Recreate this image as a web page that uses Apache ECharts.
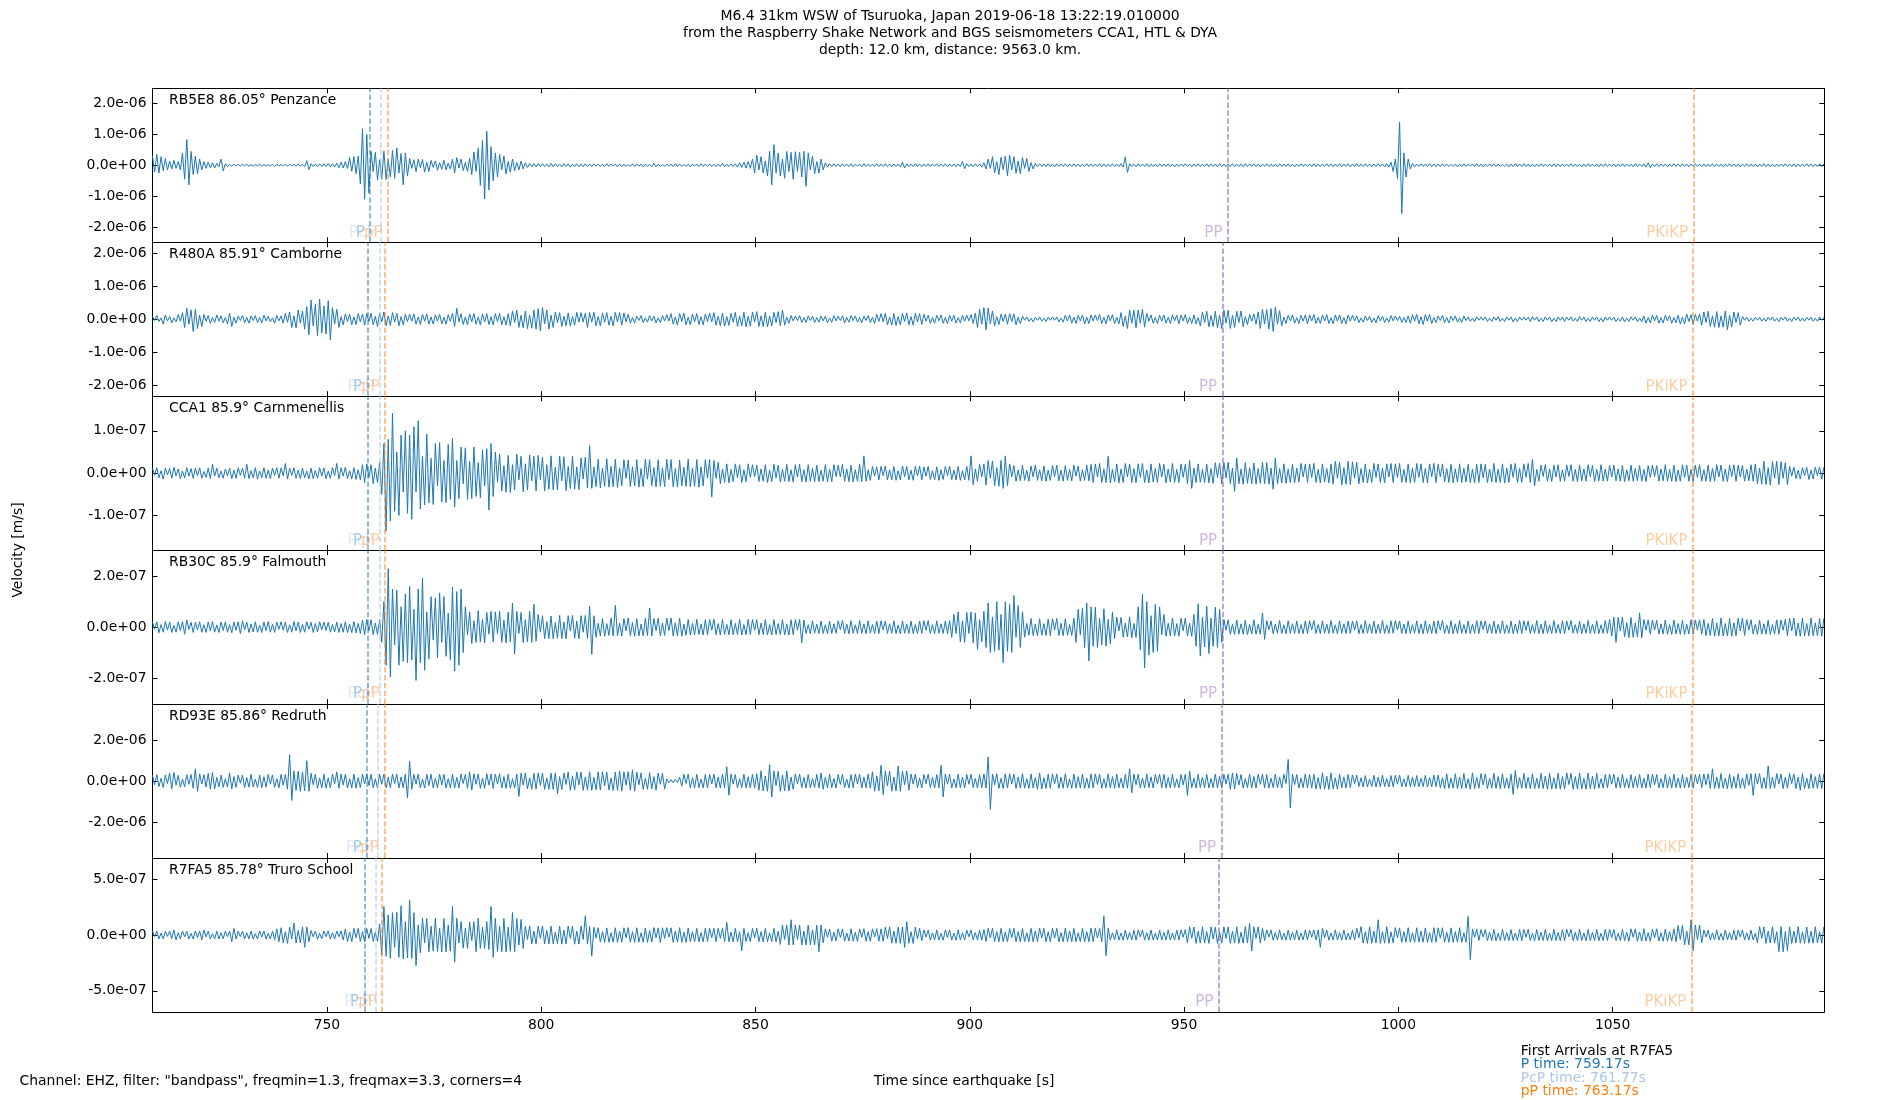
<!DOCTYPE html>
<html><head><meta charset="utf-8">
<script src="https://cdn.jsdelivr.net/npm/echarts@6/dist/echarts.min.js"></script>
<style>html,body{margin:0;padding:0;background:#fff}#c{width:1900px;height:1100px}</style>
</head><body><div id="c"></div>
<script>
const titleLines = [
  'M6.4 31km WSW of Tsuruoka, Japan 2019-06-18 13:22:19.010000',
  'from the Raspberry Shake Network and BGS seismometers CCA1, HTL & DYA',
  'depth: 12.0 km, distance: 9563.0 km.'
];
const stationLabels = ['RB5E8 86.05° Penzance','R480A 85.91° Camborne','CCA1 85.9° Carnmenellis','RB30C 85.9° Falmouth','RD93E 85.86° Redruth','R7FA5 85.78° Truro School'];
const phaseNames = ['P','PcP','pP','PP','PKiKP'];
const phaseTimes = [
  [760.1,762.6,764.25,960.25,1068.9],
  [759.5,762.25,763.6,959.0,1068.75],
  [759.5,762.25,763.6,959.0,1068.75],
  [759.5,762.25,763.6,959.0,1068.75],
  [759.4,761.9,763.4,958.75,1068.5],
  [758.75,761.5,762.9,958.1,1068.5]
];
const yLimits = [2.49e-6, 2.33e-6, 1.82e-7, 3.03e-7, 3.77e-6, 6.9e-7];
const yTicks = [
  [-2e-6,-1e-6,0,1e-6,2e-6],
  [-2e-6,-1e-6,0,1e-6,2e-6],
  [-1e-7,0,1e-7],
  [-2e-7,0,2e-7],
  [-2e-6,0,2e-6],
  [-5e-7,0,5e-7]
];
const xTicks = [750,800,850,900,950,1000,1050];
const xMin = 709.3, xMax = 1099.4;
const traceStart = 709.3, traceStep = 0.5;
const traceUnits = [1e-8,1e-8,1e-9,1e-9,1e-8,1e-9];
const footerLeft = 'Channel: EHZ, filter: "bandpass", freqmin=1.3, freqmax=3.3, corners=4';
const xLabel = 'Time since earthquake [s]';
const yLabel = 'Velocity [m/s]';
const arrivalLines = ['First Arrivals at R7FA5','P time: 759.17s','PcP time: 761.77s','pP time: 763.17s'];

const trace1 = [
30,-22,35,-25,28,-18,22,-15,14,-12,16,-10,12,-15,40,-45,83,-63,45,-30,
30,-28,20,-15,12,-10,10,-8,8,-9,6,-5,20,-18,5,-4,3,-3,4,-3,
3,-3,4,-2,3,-3,2,-3,3,-2,4,-3,3,-3,2,-2,3,-4,3,-2,
3,-3,4,-3,3,-2,3,-3,4,-3,3,-4,15,-14,5,-4,4,-5,5,-4,
5,-4,6,-5,5,-6,7,-8,10,-9,12,-10,25,-20,28,-27,30,-60,118,-110,
100,-90,45,-20,42,-48,18,-45,46,-46,20,-38,48,-42,56,-25,38,-63,40,-35,
22,-10,18,-21,20,-8,19,-22,10,-20,16,-7,14,-16,8,-13,16,-15,7,-12,
20,-25,25,-9,20,-17,9,-20,22,-30,43,-20,55,-65,80,-109,110,-80,60,-50,
40,-38,35,-15,30,-28,12,-22,20,-18,9,-15,14,-12,8,-7,6,-5,5,-5,
5,-4,5,-5,4,-5,6,-4,5,-4,4,-5,5,-4,5,-6,4,-4,5,-5,
4,-5,5,-4,4,-4,5,-3,4,-4,3,-4,5,-4,4,-3,4,-5,4,-4,
4,-4,3,-4,5,-4,4,-3,4,-5,4,-4,3,-4,6,-5,4,-4,3,-4,
4,-3,4,-4,5,-4,4,-4,3,-4,4,-5,4,-3,4,-4,5,-4,4,-4,
4,-4,3,-5,4,-4,6,-5,4,-4,4,-4,5,-6,8,-7,10,-9,12,-10,
20,-25,32,-15,28,-25,14,-35,45,-63,67,-25,40,-35,20,-42,45,-20,42,-45,
44,-20,42,-38,45,-68,40,-15,30,-27,12,-25,20,-15,8,-6,5,-4,5,-4,
4,-5,5,-4,4,-4,5,-5,4,-3,4,-5,5,-4,4,-4,3,-4,5,-4,
4,-4,5,-4,4,-5,4,-4,4,-5,10,-9,5,-4,4,-4,5,-4,4,-5,
4,-4,5,-4,4,-3,5,-4,4,-4,5,-5,4,-4,4,-5,4,-4,12,-11,
5,-4,4,-5,5,-4,4,-6,8,-12,20,-10,28,-25,12,-30,26,-14,30,-34,
32,-15,28,-26,14,-27,25,-10,22,-20,9,-12,6,-5,5,-4,4,-5,5,-4,
4,-5,5,-4,4,-4,5,-5,4,-4,5,-4,4,-5,4,-4,5,-4,4,-4,
4,-4,5,-4,4,-5,4,-4,5,-4,4,-4,5,-6,27,-23,5,-4,4,-5,
5,-4,4,-4,5,-5,4,-4,4,-5,5,-4,4,-4,5,-4,4,-5,4,-4,
4,-4,5,-4,4,-5,4,-4,5,-4,4,-4,5,-5,4,-4,4,-5,5,-4,
4,-5,4,-4,5,-4,4,-4,4,-5,5,-4,4,-4,5,-4,4,-5,4,-4,
5,-4,4,-4,4,-5,5,-4,4,-4,5,-4,4,-5,4,-4,5,-4,4,-4,
4,-4,5,-5,4,-4,4,-4,5,-4,4,-5,4,-4,5,-4,4,-4,5,-5,
4,-4,5,-4,4,-4,5,-4,4,-5,4,-4,5,-4,4,-5,5,-6,10,-20,
20,-43,139,-156,40,-38,20,-12,6,-5,4,-4,5,-4,4,-4,5,-4,4,-5,
4,-4,5,-4,4,-4,3,-4,4,-5,4,-4,5,-4,4,-3,4,-4,5,-4,
4,-5,4,-4,4,-4,5,-4,4,-4,3,-4,4,-5,4,-4,5,-4,4,-4,
5,-4,4,-4,4,-5,4,-4,5,-4,4,-4,4,-4,5,-5,4,-4,4,-4,
4,-4,5,-4,4,-4,4,-5,4,-4,5,-4,4,-4,4,-5,4,-4,5,-4,
4,-4,4,-5,4,-4,5,-4,4,-4,4,-5,5,-4,4,-4,5,-6,8,-8,
4,-4,5,-4,4,-4,4,-5,4,-4,5,-4,4,-4,5,-4,4,-5,4,-4,
5,-4,4,-4,4,-5,4,-4,5,-4,4,-4,4,-5,4,-4,5,-4,4,-4,
4,-5,4,-4,5,-4,4,-4,4,-5,4,-4,5,-4,4,-4,4,-5,4,-4,
4,-4,5,-4,4,-4,5,-5,4,-4,4,-4,5,-4,4,-5,4,-4,5,-4,
4];

const trace2 = [
8,-4,12,-7,4,-15,13,-5,8,-11,4,-8,14,-6,20,-25,33,-15,28,-37,
30,-28,12,-22,14,-6,11,-13,5,-10,13,-6,10,-11,5,-14,18,-22,6,-12,
10,-4,11,-10,5,-12,10,-4,11,-10,5,-11,12,-5,9,-8,4,-12,11,-5,
10,-12,18,-9,22,-25,10,-26,28,-12,25,-30,38,-47,58,-20,45,-50,61,-42,
40,-45,56,-62,35,-15,30,-25,8,-17,16,-7,15,-17,7,-16,17,-8,16,-18,
17,-7,18,-17,9,-22,19,-8,22,-20,10,-19,20,-9,18,-20,8,-17,15,-7,
15,-6,16,-15,7,-16,15,-6,16,-15,7,-15,13,-6,15,-14,6,-15,14,-7,
18,-22,33,-8,17,-16,7,-17,16,-8,17,-15,7,-17,16,-8,17,-16,7,-17,
17,-7,18,-17,8,-18,17,-20,25,-10,27,-25,12,-26,25,-28,12,-27,28,-30,
32,-35,35,-14,28,-30,12,-25,22,-10,20,-22,9,-20,19,-21,8,-18,21,-9,
20,-8,18,-25,20,-9,21,-20,8,-20,19,-9,20,-18,9,-20,21,-8,20,-18,
19,-8,15,-12,5,-11,9,-4,11,-10,4,-9,11,-5,9,-11,4,-10,11,-5,
14,-6,17,-15,7,-18,17,-7,18,-17,6,-17,16,-8,17,-16,7,-17,16,-7,
19,-8,20,-18,9,-20,19,-21,8,-19,18,-9,21,-22,10,-20,21,-23,9,-21,
22,-9,23,-22,10,-22,21,-23,9,-20,21,-10,23,-20,28,-18,6,-12,11,-5,
10,-4,11,-10,5,-10,10,-4,9,-10,5,-9,10,-5,9,-11,4,-9,11,-5,
9,-4,10,-11,5,-9,11,-4,10,-9,5,-11,9,-4,11,-10,6,-13,15,-7,
17,-8,18,-17,7,-18,17,-19,8,-17,18,-7,19,-17,8,-18,18,-8,17,-16,
15,-6,12,-13,5,-12,12,-5,13,-12,5,-13,12,-6,12,-12,5,-11,12,-6,
12,-5,14,-13,18,-25,30,-15,35,-32,34,-14,25,-20,8,-16,15,-7,16,-15,
17,-7,16,-17,6,-13,9,-3,7,-6,3,-8,6,-3,7,-6,3,-7,6,-3,
7,-3,7,-8,3,-9,12,-5,13,-12,6,-13,12,-5,13,-14,6,-13,13,-5,
13,-5,14,-13,6,-14,13,-5,14,-13,6,-14,20,-22,10,-28,28,-12,27,-26,
28,-12,30,-24,18,-6,13,-12,5,-13,12,-6,13,-12,6,-13,13,-5,12,-14,
13,-5,14,-13,6,-13,13,-14,5,-20,22,-10,24,-23,11,-22,24,-26,12,-28,
28,-12,27,-28,12,-25,24,-10,25,-22,8,-16,14,-6,16,-15,22,-28,30,-14,
29,-30,32,-37,36,-15,26,-20,6,-13,12,-5,13,-12,5,-13,12,-6,13,-14,
13,-5,14,-13,6,-13,13,-5,14,-13,5,-14,13,-6,13,-13,5,-14,13,-6,
12,-5,10,-10,4,-9,10,-4,9,-10,4,-11,11,-5,9,-10,4,-9,11,-5,
10,-4,9,-10,5,-10,10,-12,14,-6,15,-14,7,-16,14,-6,15,-13,5,-10,
10,-4,11,-10,5,-11,9,-4,10,-9,4,-10,10,-4,7,-7,3,-7,7,-3,
7,-3,7,-7,3,-7,7,-3,8,-7,3,-7,7,-3,7,-8,3,-7,7,-3,
7,-3,6,-7,8,-3,7,-7,3,-7,7,-3,7,-8,3,-7,7,-3,7,-7,
6,-3,7,-6,3,-7,8,-3,7,-7,3,-7,7,-3,7,-7,3,-8,7,-3,
7,-3,6,-7,3,-6,7,-8,3,-7,7,-3,7,-7,3,-7,10,-12,5,-11,
12,-5,11,-12,5,-11,12,-5,11,-12,5,-11,12,-15,6,-14,16,-7,14,-16,
15,-6,16,-18,22,-10,24,-22,10,-24,23,-25,10,-24,25,-32,12,-24,22,-10,
20,-18,8,-3,6,-6,3,-6,6,-3,6,-6,3,-6,6,-3,7,-6,3,-7,
6,-3,7,-6,3,-7,6,-3,7,-6,3,-6,6,-3,6,-6,3,-6,7,-3,
6];

const trace3 = [
12,-5,13,-11,6,-14,12,-4,11,-12,14,-6,10,-13,5,-11,13,-7,11,-12,
12,-6,13,-12,4,-10,12,-13,21,-7,12,-11,5,-12,10,-6,12,-13,7,-12,
13,-5,12,-12,21,-13,6,-11,13,-14,5,-11,13,-12,7,-13,12,-5,13,-12,
12,-6,23,-14,12,-5,13,-12,7,-13,12,-11,5,-14,12,-13,6,-12,13,-7,
12,-13,5,-12,13,-6,23,-14,13,-7,14,-13,6,-14,13,-15,8,-16,20,-22,
22,-10,20,-25,12,-22,25,-50,70,-137,80,-113,142,-90,50,-100,90,-45,100,-95,
90,-109,110,-45,124,-85,40,-75,92,-70,35,-74,70,-30,72,-68,30,-70,68,-62,
82,-80,30,-60,62,-25,60,-62,28,-60,62,-55,25,-58,55,-30,58,-87,70,-55,
50,-20,45,-42,18,-45,42,-46,20,-40,45,-16,40,-44,22,-40,43,-18,40,-42,
42,-15,38,-42,20,-38,41,-39,14,-40,40,-18,39,-41,16,-36,40,-38,15,-39,
36,-14,38,-35,65,-36,15,-32,33,-35,12,-31,34,-33,16,-32,33,-34,13,-30,
32,-12,31,-32,15,-30,32,-33,11,-32,33,-14,32,-30,13,-33,32,-31,12,-32,
33,-15,32,-32,11,-33,31,-30,14,-31,33,-32,12,-31,32,-33,15,-30,32,-12,
32,-56,30,-12,26,-25,10,-22,22,-23,9,-20,22,-11,20,-22,8,-20,22,-10,
20,-8,19,-20,10,-19,20,-22,7,-20,21,-11,19,-21,9,-19,21,-20,8,-21,
20,-9,21,-20,8,-21,20,-19,11,-20,19,-20,7,-19,20,-21,10,-20,20,-8,
19,-9,21,-19,10,-20,19,-21,8,-19,21,-20,41,-19,8,-17,16,-7,15,-16,
16,-6,17,-16,8,-16,16,-17,6,-16,17,-8,16,-16,7,-17,16,-6,17,-16,
15,-7,16,-15,6,-16,15,-17,8,-15,16,-6,17,-15,7,-16,16,-17,6,-16,
16,-17,41,-27,10,-19,21,-9,22,-28,30,-12,29,-30,13,-31,30,-36,41,-30,
22,-9,18,-19,8,-18,19,-17,7,-19,17,-9,19,-17,8,-18,17,-19,7,-17,
18,-8,19,-18,7,-19,18,-17,9,-18,19,-7,17,-19,8,-17,19,-18,21,-22,
22,-9,23,-22,10,-22,40,-23,9,-21,22,-23,10,-22,23,-9,22,-22,11,-23,
22,-10,23,-22,8,-23,22,-21,11,-22,23,-9,21,-23,10,-21,23,-22,9,-22,
22,-10,21,-25,30,-36,12,-22,22,-21,9,-22,21,-23,11,-24,25,-10,24,-25,
25,-11,26,-25,12,-43,36,-25,10,-26,25,-24,13,-25,24,-26,11,-24,26,-25,
25,-26,12,-38,36,-25,11,-23,22,-24,10,-22,21,-23,12,-21,23,-9,21,-22,
22,-10,23,-22,9,-23,22,-21,11,-23,22,-26,28,-12,26,-28,13,-26,28,-27,
27,-12,26,-25,11,-22,22,-23,9,-22,23,-10,22,-22,12,-23,22,-9,23,-22,
22,-10,23,-22,9,-22,22,-23,12,-22,23,-10,22,-22,11,-23,22,-9,23,-22,
21,-9,22,-21,11,-22,21,-23,10,-21,22,-22,12,-21,21,-22,9,-23,21,-22,
22,-11,21,-22,10,-21,23,-22,9,-22,22,-23,12,-22,22,-10,23,-22,11,-22,
22,-10,23,-22,33,-30,9,-19,19,-8,20,-19,10,-20,19,-9,20,-19,8,-19,
19,-8,20,-19,9,-20,19,-18,10,-19,20,-8,18,-20,9,-18,20,-19,10,-19,
18,-9,19,-18,10,-19,18,-20,8,-18,19,-19,11,-18,18,-19,9,-20,18,-10,
19,-8,18,-19,10,-18,20,-19,9,-19,19,-20,8,-19,20,-10,19,-19,9,-20,
19,-10,20,-19,8,-19,19,-20,11,-19,20,-9,19,-19,10,-20,19,-8,20,-19,
19,-9,18,-19,10,-18,20,-19,22,-25,12,-26,28,-27,13,-28,27,-12,28,-27,
27,-12,25,-27,16,-7,14,-13,7,-14,13,-6,14,-15,7,-14,14,-6,15,-14,
14];

const trace4 = [
20,-8,21,-22,10,-20,22,-12,20,-21,7,-20,21,-14,22,-28,28,-9,19,-21,
20,-11,21,-20,9,-21,20,-15,22,-20,8,-21,20,-13,21,-20,10,-22,20,-12,
21,-25,25,-10,19,-21,12,-19,21,-20,8,-21,20,-14,22,-20,11,-21,20,-9,
21,-12,20,-21,9,-20,22,-15,20,-21,11,-20,21,-8,19,-21,14,-19,21,-10,
20,-13,19,-20,10,-19,20,-21,14,-20,21,-22,12,-21,22,-23,15,-25,28,-30,
30,-14,29,-30,16,-29,30,-60,100,-150,230,-196,150,-70,145,-150,80,-135,130,-140,
160,-130,70,-210,150,-140,193,-170,60,-125,120,-50,115,-120,135,-60,120,-115,55,-130,
157,-173,140,-150,150,-100,80,-30,60,-65,25,-60,65,-58,30,-62,58,-28,62,-58,
60,-25,62,-60,28,-62,60,-58,95,-105,62,-25,58,-61,30,-58,62,-60,90,-55,
50,-20,45,-46,22,-45,44,-46,18,-44,46,-45,20,-46,45,-16,46,-44,24,-46,
45,-20,46,-45,82,-107,45,-40,15,-35,34,-36,14,-33,36,-35,86,-34,16,-36,
34,-15,36,-34,18,-36,33,-35,12,-34,35,-33,75,-35,34,-14,35,-34,16,-33,
35,-14,36,-35,17,-34,35,-36,12,-32,30,-31,15,-30,31,-29,12,-31,29,-30,
30,-12,31,-30,14,-31,30,-29,11,-30,29,-30,15,-29,30,-31,10,-30,31,-29,
30,-13,29,-30,16,-29,30,-30,10,-31,30,-29,14,-30,29,-30,12,-31,29,-30,
30,-12,31,-62,28,-25,10,-26,25,-24,12,-25,24,-25,9,-26,24,-25,13,-24,
25,-10,26,-25,12,-26,25,-24,9,-25,26,-24,13,-26,25,-24,10,-25,24,-25,
25,-11,24,-25,13,-24,25,-25,9,-26,25,-24,12,-25,24,-25,10,-26,24,-25,
25,-12,26,-25,10,-26,25,-24,13,-25,24,-26,25,-40,50,-25,60,-58,25,-60,
58,-25,60,-62,56,-88,30,-58,62,-80,95,-100,40,-95,100,-90,50,-140,100,-95,
90,-100,124,-40,85,-80,60,-40,15,-32,34,-33,12,-34,33,-32,14,-33,32,-34,
33,-12,34,-33,15,-34,33,-32,10,-33,35,-60,70,-30,75,-80,95,-133,80,-75,
78,-80,35,-70,72,-75,30,-65,60,-45,40,-15,38,-40,16,-39,40,-42,14,-41,
80,-90,130,-160,100,-110,45,-100,90,-95,80,-30,50,-36,15,-34,36,-35,14,-36,
35,-14,36,-35,15,-36,50,-75,92,-114,40,-78,82,-104,35,-75,78,-80,70,-60,
30,-12,29,-28,11,-29,28,-27,13,-28,27,-29,10,-27,29,-28,12,-28,56,-48,
26,-10,24,-26,12,-24,26,-25,9,-26,25,-24,13,-25,24,-25,10,-26,24,-25,
25,-11,26,-25,10,-26,25,-24,12,-25,26,-24,9,-26,25,-24,13,-25,24,-25,
24,-12,25,-26,10,-25,26,-24,13,-25,24,-26,11,-24,26,-25,9,-25,25,-24,
26,-11,24,-25,12,-26,24,-25,10,-24,25,-25,13,-26,25,-24,11,-25,24,-26,
25,-12,26,-25,9,-25,25,-26,13,-25,26,-24,10,-25,24,-26,12,-24,26,-25,
24,-10,25,-24,13,-25,24,-26,11,-24,25,-25,9,-24,24,-26,12,-24,26,-25,
25,-13,24,-25,10,-24,26,-25,12,-26,25,-24,9,-25,26,-24,11,-25,25,-26,
24,-12,26,-24,10,-25,24,-26,13,-24,26,-25,11,-25,25,-26,9,-25,26,-24,
30,-35,40,-60,38,-15,39,-38,18,-41,38,-40,16,-39,56,-42,30,-12,29,-28,
28,-12,27,-28,13,-27,28,-28,10,-29,28,-27,14,-28,27,-29,11,-27,29,-28,
28,-12,29,-28,30,-34,15,-33,34,-36,16,-34,36,-35,14,-35,34,-36,17,-34,
35,-15,36,-33,30,-12,29,-27,11,-29,27,-28,13,-28,27,-29,10,-27,29,-28,
28,-12,30,-33,35,-15,36,-35,16,-36,35,-34,14,-35,36,-34,17,-33,34,-36,
34];

const trace5 = [
28,-18,32,-27,14,-31,30,-12,40,-38,42,-20,28,-31,10,-29,31,-16,32,-35,
60,-50,35,-14,31,-29,38,-40,42,-38,18,-28,29,-31,12,-29,40,-38,22,-31,
30,-11,29,-32,17,-30,33,-29,9,-31,30,-33,21,-30,33,-15,30,-31,12,-33,
32,-20,33,-40,129,-95,50,-45,48,-50,45,-48,100,-50,38,-18,34,-36,15,-33,
34,-35,16,-33,35,-14,45,-36,34,-20,33,-34,12,-33,34,-35,18,-32,34,-13,
33,-22,34,-33,11,-34,33,-16,34,-33,19,-33,34,-12,33,-34,20,-33,34,-82,
96,-40,33,-15,34,-33,10,-34,33,-22,34,-33,14,-33,34,-19,33,-34,12,-33,
33,-34,18,-33,35,-12,33,-35,45,-44,36,-16,35,-36,14,-35,36,-20,35,-36,
34,-15,36,-34,22,-36,34,-35,12,-34,35,-75,38,-20,40,-38,16,-40,38,-39,
40,-21,39,-41,15,-40,39,-41,40,-62,22,-41,40,-17,44,-45,25,-44,45,-19,
44,-45,20,-44,45,-46,18,-43,45,-44,46,-24,43,-44,15,-46,44,-45,50,-50,
45,-20,46,-45,55,-50,44,-18,40,-41,14,-40,41,-39,22,-45,39,-16,38,-39,
10,-8,7,-8,8,-7,20,-25,33,-12,34,-33,17,-34,33,-32,10,-33,32,-34,
33,-14,34,-33,20,-34,33,-32,70,-69,34,-15,32,-34,12,-32,34,-33,21,-34,
33,-34,36,-45,50,-48,25,-50,80,-78,50,-22,48,-50,30,-48,50,-49,20,-40,
35,-14,34,-32,18,-34,32,-33,12,-32,33,-34,40,-40,19,-33,34,-32,13,-34,
32,-17,34,-32,10,-34,32,-33,34,-15,33,-34,20,-33,34,-35,45,-50,26,-48,
77,-67,50,-24,49,-50,20,-49,74,-50,48,-19,50,-45,35,-15,34,-32,16,-34,
32,-13,34,-32,18,-34,32,-33,77,-78,34,-15,33,-34,11,-33,34,-32,20,-34,
32,-16,34,-32,13,-34,32,-33,35,-34,118,-139,35,-18,36,-35,14,-36,35,-34,
36,-15,34,-36,20,-34,36,-35,12,-36,35,-34,18,-40,40,-39,16,-36,34,-35,
36,-14,35,-36,19,-35,36,-34,11,-36,34,-35,21,-34,35,-36,15,-35,36,-34,
35,-17,33,-35,12,-33,35,-34,22,-35,34,-33,14,-34,33,-35,60,-57,34,-18,
33,-34,15,-33,34,-32,21,-34,32,-13,34,-32,33,-34,18,-33,34,-32,11,-34,
32,-19,34,-70,49,-33,14,-34,33,-32,20,-33,32,-34,12,-32,34,-33,23,-34,
33,-15,34,-40,40,-39,38,-20,32,-34,12,-32,34,-33,22,-34,33,-16,34,-33,
32,-34,14,-32,34,-33,20,-34,33,-12,106,-132,34,-18,32,-34,15,-32,34,-33,
32,-34,33,-40,18,-39,41,-40,24,-41,40,-39,16,-40,34,-33,20,-34,33,-32,
30,-12,29,-27,16,-29,27,-28,10,-27,28,-29,19,-28,29,-27,12,-29,27,-28,
28,-15,29,-28,11,-29,28,-27,20,-28,27,-28,13,-27,28,-29,18,-28,29,-27,
30,-33,16,-37,35,-36,14,-35,36,-37,20,-36,37,-35,12,-40,40,-37,18,-35,
37,-18,35,-37,14,-35,37,-36,22,-37,36,-35,15,-36,35,-65,52,-37,17,-35,
37,-36,20,-37,36,-38,14,-36,38,-37,25,-40,38,-39,16,-38,39,-40,22,-39,
40,-17,38,-40,22,-38,40,-39,14,-40,39,-38,24,-39,38,-35,12,-34,32,-33,
34,-15,33,-34,20,-33,34,-32,11,-34,32,-33,22,-32,33,-34,14,-33,34,-32,
33,-18,32,-33,12,-32,33,-34,21,-33,34,-32,15,-34,32,-33,19,-32,33,-34,
32,-14,34,-32,35,-18,36,-35,60,-36,20,-36,37,-35,14,-37,35,-36,22,-35,
36,-35,16,-36,35,-21,37,-70,36,-15,37,-36,18,-36,74,-37,20,-35,37,-14,
35,-37,19,-35,37,-13,35,-37,20,-45,37,-36,15,-37,36,-35,22,-36,35,-37,
36];

const trace6 = [
35,-13,36,-34,18,-35,34,-12,35,-33,45,-44,20,-34,35,-16,33,-35,14,-36,
35,-22,36,-45,45,-16,35,-34,12,-35,34,-36,20,-34,36,-15,34,-60,60,-36,
35,-14,34,-35,20,-34,35,-36,12,-35,36,-18,35,-36,14,-35,36,-45,55,-60,
65,-70,30,-75,70,-34,107,-72,40,-70,73,-110,74,-60,40,-16,35,-37,15,-35,
36,-14,37,-36,20,-37,36,-15,37,-45,55,-60,28,-60,59,-25,60,-58,30,-60,
58,-30,59,-57,25,-58,100,-180,256,-190,180,-208,200,-110,205,-200,262,-214,120,-205,
315,-210,200,-274,90,-160,150,-70,148,-150,80,-145,150,-148,60,-150,148,-152,90,-145,
256,-244,150,-70,120,-118,60,-120,118,-50,120,-150,150,-120,70,-122,120,-130,256,-200,
150,-148,80,-150,148,-152,70,-145,202,-150,148,-90,140,-120,80,-40,82,-80,35,-82,
80,-30,82,-80,40,-81,80,-79,25,-78,80,-82,45,-80,81,-30,80,-82,35,-80,
80,-40,173,-80,75,-190,70,-25,66,-64,30,-66,64,-65,20,-64,65,-66,35,-65,
65,-24,66,-65,30,-66,65,-64,20,-65,64,-66,40,-64,66,-25,64,-66,65,-30,
66,-20,64,-66,35,-64,66,-65,25,-66,62,-60,30,-59,60,-61,22,-60,61,-59,
60,-25,59,-60,61,-30,60,-61,113,-60,25,-61,60,-59,30,-140,60,-59,20,-60,
59,-25,61,-59,30,-61,59,-60,20,-59,60,-61,35,-85,90,-40,89,-90,137,-88,
90,-40,89,-90,35,-89,90,-88,45,-90,88,-149,90,-70,56,-20,54,-56,25,-54,
56,-22,54,-56,18,-54,56,-55,25,-56,55,-20,56,-55,30,-56,55,-18,56,-55,
54,-56,70,-30,74,-72,35,-73,72,-75,74,-110,119,-74,30,-75,72,-35,60,-50,
46,-18,44,-46,20,-44,46,-45,15,-46,45,-22,46,-45,17,-46,45,-44,20,-45,
44,-16,45,-44,22,-45,44,-46,50,-58,60,-25,61,-60,30,-61,60,-59,28,-60,
59,-24,61,-59,30,-61,59,-60,20,-59,60,-61,35,-60,61,-25,60,-61,30,-60,
61,-28,60,-61,22,-60,61,-59,35,-61,59,-60,20,-59,60,-61,30,-60,61,-59,
60,-25,59,-60,173,-185,60,-46,20,-44,46,-45,18,-46,45,-44,22,-45,44,-46,
45,-16,46,-45,20,-46,45,-44,15,-45,44,-46,24,-44,46,-45,18,-46,45,-44,
46,-20,50,-70,75,-30,72,-75,34,-73,75,-72,30,-75,74,-35,70,-74,28,-73,
74,-30,73,-74,35,-72,74,-75,25,-74,75,-72,104,-143,74,-30,73,-72,60,-50,
46,-18,44,-46,22,-44,46,-45,16,-46,45,-44,25,-45,44,-46,18,-44,46,-45,
44,-20,45,-44,46,-110,60,-25,44,-46,18,-44,46,-45,22,-46,45,-44,16,-45,
44,-46,60,-25,75,-73,30,-75,73,-74,35,-72,137,-75,30,-73,75,-74,28,-70,
66,-25,64,-66,30,-64,66,-65,20,-66,65,-64,35,-65,64,-66,22,-64,66,-65,
64,-28,65,-64,25,-65,64,-66,30,-64,66,-65,20,-66,167,-220,55,-20,51,-49,
50,-18,49,-50,25,-49,50,-51,15,-50,51,-49,22,-51,49,-50,18,-49,50,-51,
49,-20,51,-49,16,-51,49,-50,25,-49,50,-51,18,-50,51,-49,22,-51,49,-50,
51,-15,50,-51,24,-50,51,-49,18,-51,49,-50,25,-49,50,-51,16,-50,51,-49,
50,-22,49,-50,15,-49,50,-51,25,-55,56,-20,55,-56,28,-55,56,-54,22,-56,
54,-25,56,-54,20,-56,54,-55,30,-54,55,-60,85,-40,88,-89,35,-88,137,-140,
90,-40,89,-70,46,-18,44,-46,20,-44,46,-45,15,-46,45,-44,22,-45,44,-46,
45,-18,46,-45,20,-46,45,-44,16,-70,75,-30,73,-75,35,-72,75,-73,30,-150,
75,-150,30,-140,73,-75,35,-72,75,-73,28,-75,72,-74,35,-73,74,-72,30,-74,
73];

const traces = [trace1, trace2, trace3, trace4, trace5, trace6];

const FONT = 'DejaVu Sans';
const FS = 13.9;
const plotLeft = 152.5, plotRight = 75.7, plotTop = 88.3, panelH = 153.95;
const phaseLineColors = ['rgba(31,119,180,0.55)','rgba(174,199,232,0.6)','rgba(255,127,14,0.55)','rgba(148,103,189,0.65)','rgba(255,127,14,0.55)'];
const phaseTextColors = ['rgba(31,119,180,0.5)','rgba(174,199,232,0.5)','rgba(255,127,14,0.5)','rgba(148,103,189,0.6)','rgba(255,127,14,0.5)'];

function sci(v){
  return Number(v).toExponential(1).replace(/e([+-])(\d)$/, 'e$10$2');
}

const grids = [], xAxes = [], yAxes = [], series = [], graphics = [];
const axisLineStyle = {color:'#000', width:1};
for (let i = 0; i < 6; i++) {
  const top = plotTop + i * panelH;
  grids.push({left: plotLeft, right: plotRight, top: top, height: panelH, containLabel: false});
  const isBottom = i === 5;
  xAxes.push({
    type:'value', gridIndex:i, position:'bottom', min:xMin, max:xMax,
    axisLine:{show:true, onZero:false, lineStyle:axisLineStyle},
    axisTick:{show:true, inside:true, length:5, customValues:xTicks, lineStyle:{color:'#000', width:1}},
    axisLabel:{show:isBottom, customValues:xTicks, formatter:(v) => String(v), fontFamily:FONT, fontSize:FS, color:'#000', margin:6},
    splitLine:{show:false}
  });
  xAxes.push({
    type:'value', gridIndex:i, position:'top', min:xMin, max:xMax,
    axisLine:{show:true, onZero:false, lineStyle:axisLineStyle},
    axisTick:{show:true, inside:true, length:5, customValues:xTicks, lineStyle:{color:'#000', width:1}},
    axisLabel:{show:false}, splitLine:{show:false}
  });
  yAxes.push({
    type:'value', gridIndex:i, position:'left', min:-yLimits[i], max:yLimits[i],
    axisLine:{show:true, onZero:false, lineStyle:axisLineStyle},
    axisTick:{show:true, inside:true, length:5, customValues:yTicks[i], lineStyle:{color:'#000', width:1}},
    axisLabel:{show:true, customValues:yTicks[i], formatter:sci, fontFamily:FONT, fontSize:FS, color:'#000', margin:6},
    splitLine:{show:false}
  });
  yAxes.push({
    type:'value', gridIndex:i, position:'right', min:-yLimits[i], max:yLimits[i],
    axisLine:{show:true, onZero:false, lineStyle:axisLineStyle},
    axisTick:{show:true, inside:true, length:5, customValues:yTicks[i], lineStyle:{color:'#000', width:1}},
    axisLabel:{show:false}, splitLine:{show:false}
  });
  const unit = traceUnits[i];
  series.push({
    type:'line', xAxisIndex:2*i, yAxisIndex:2*i,
    data: traces[i].map((v,k) => [traceStart + k*traceStep, v*unit]),
    showSymbol:false, symbol:'none', animation:false, silent:true, clip:true,
    lineStyle:{color:'#1f77b4', width:1}, z:2,
    markLine:{
      symbol:['none','none'], silent:true, animation:false, label:{show:false},
      data: phaseTimes[i].map((t,j) => ({xAxis:t, lineStyle:{color:phaseLineColors[j], type:[5.5,2.4], width:1.8}}))
    }
  });
  series.push({
    type:'scatter', xAxisIndex:2*i, yAxisIndex:2*i, silent:true, animation:false, z:4,
    symbolSize:1, itemStyle:{color:'rgba(0,0,0,0)'},
    data: phaseTimes[i].map((t,j) => ({
      value:[t, -yLimits[i]],
      label:{show:true, formatter:phaseNames[j], color:phaseTextColors[j]}
    })),
    label:{show:true, position:'left', distance:5, offset:[0,-9.5], fontFamily:FONT, fontSize:15}
  });
  graphics.push({type:'text', x:169, y:top + 12, silent:true,
    style:{text:stationLabels[i], fill:'#000', fontFamily:FONT, fontSize:FS, align:'left', verticalAlign:'middle'}});
}

const titleY = [16.3, 33.3, 50.3];
titleLines.forEach((t,k) => graphics.push({type:'text', x:950, y:titleY[k], silent:true,
  style:{text:t, fill:'#000', fontFamily:FONT, fontSize:FS, align:'center', verticalAlign:'middle'}}));
graphics.push({type:'text', x:18, y:550, rotation:Math.PI/2, silent:true,
  style:{text:yLabel, fill:'#000', fontFamily:FONT, fontSize:FS, align:'center', verticalAlign:'middle'}});
graphics.push({type:'text', x:19.6, y:1081.7, silent:true,
  style:{text:footerLeft, fill:'#000', fontFamily:FONT, fontSize:FS, align:'left', verticalAlign:'middle'}});
graphics.push({type:'text', x:964, y:1081.7, silent:true,
  style:{text:xLabel, fill:'#000', fontFamily:FONT, fontSize:FS, align:'center', verticalAlign:'middle'}});
const arrivalColors = ['#000','#1f77b4','#aec7e8','#ff7f0e'];
const arrivalY = [1051, 1064.6, 1078.2, 1091.8];
arrivalLines.forEach((t,k) => graphics.push({type:'text', x:1520.8, y:arrivalY[k], silent:true,
  style:{text:t, fill:arrivalColors[k], fontFamily:FONT, fontSize:FS, align:'left', verticalAlign:'middle'}}));

const chart = echarts.init(document.getElementById('c'), null, {renderer:'canvas', width:1900, height:1100});
chart.setOption({
  animation:false,
  backgroundColor:'#fff',
  grid: grids, xAxis: xAxes, yAxis: yAxes, series: series,
  graphic: graphics
});
</script>
</body></html>
